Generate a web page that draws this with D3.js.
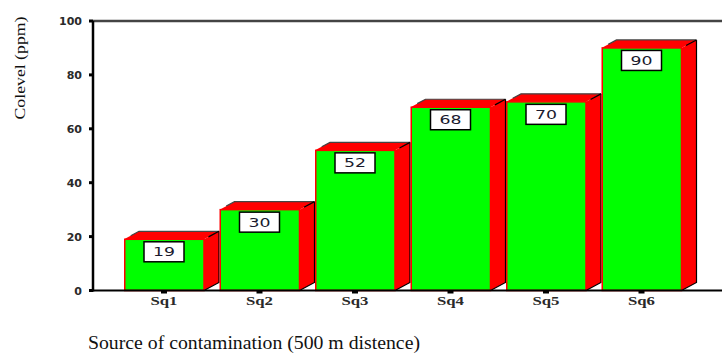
<!DOCTYPE html>
<html><head><meta charset="utf-8">
<script src="https://cdn.jsdelivr.net/npm/d3@7"></script>
<style>html,body{margin:0;padding:0;background:#fff;}svg{display:block;}</style>
</head><body>
<svg id="c" width="722" height="354"></svg>
<script>
const categories = ["Sq1","Sq2","Sq3","Sq4","Sq5","Sq6"];
const values = [19, 30, 52, 68, 70, 90];
const yTicks = [0, 20, 40, 60, 80, 100];
const yTitle = "Colevel (ppm)";
const xTitle = "Source of contamination (500 m distence)";

(function(){
const svg = d3.select("#c");
const pLeft = 93, pRight = 722, pTop = 21, pBottom = 290.5;
const y = d3.scaleLinear().domain([0, 100]).range([pBottom, pTop]);
const x = d3.scalePoint().domain(categories).range([164, 641.5]);
const bw = 80, dx = 15, dy = 8;

const g = svg.append("g");
categories.forEach((c, i) => {
  const cx = x(c), v = values[i];
  const x0 = cx - bw/2, x1 = cx + bw/2, yt = y(v), yb = y(0);
  g.append("path").attr("d", `M${x1},${yb}L${x1+dx},${yb-dy}L${x1+dx},${yt-dy}L${x1},${yt}Z`)
    .attr("fill", "#ff0000");
  g.append("path").attr("d", `M${x1},${yb}L${x1+dx},${yb-dy}L${x1+dx},${yt-dy}`)
    .attr("fill", "none").attr("stroke", "#000").attr("stroke-width", 1.2);
  g.append("path").attr("d", `M${x0},${yt}L${x0+dx},${yt-dy}L${x1+dx},${yt-dy}L${x1},${yt}Z`)
    .attr("fill", "#ff0000");
  g.append("path").attr("d", `M${x0+dx*0.45},${yt-dy*0.45}L${x0+dx},${yt-dy}L${x1+dx},${yt-dy}`)
    .attr("fill", "none").attr("stroke", "#444").attr("stroke-width", 1.2);
  g.append("path").attr("d", `M${x1+dx*0.3},${yt-dy*0.3}L${x1+dx},${yt-dy}`)
    .attr("fill", "none").attr("stroke", "#000").attr("stroke-width", 1.3);
  g.append("rect").attr("x", x0+0.75).attr("y", yt).attr("width", bw-0.75).attr("height", yb-yt)
    .attr("fill", "#00ff00").attr("stroke", "#ff0000").attr("stroke-width", 1.5);
  g.append("rect").attr("x", cx-20).attr("y", yt+2.5).attr("width", 40).attr("height", 20)
    .attr("fill", "#fff").attr("stroke", "#000").attr("stroke-width", 1.5);
  g.append("text").attr("x", cx).attr("y", yt+17).attr("text-anchor", "middle")
    .attr("font-family", "DejaVu Sans, Verdana, sans-serif").attr("font-size", 12.5)
    .attr("textLength", 22).attr("lengthAdjust", "spacingAndGlyphs")
    .attr("fill", "#1a1a2e").text(v);
});

svg.append("line").attr("x1", pLeft).attr("x2", pRight).attr("y1", pTop).attr("y2", pTop)
  .attr("stroke", "#444").attr("stroke-width", 2.5);
svg.append("line").attr("x1", pLeft-1).attr("x2", pRight).attr("y1", pBottom).attr("y2", pBottom)
  .attr("stroke", "#000").attr("stroke-width", 2);
svg.append("line").attr("x1", pLeft).attr("x2", pLeft).attr("y1", pTop).attr("y2", pBottom+1)
  .attr("stroke", "#000").attr("stroke-width", 2.5);

const ya = svg.append("g");
yTicks.forEach(t => {
  ya.append("rect").attr("x", pLeft-4).attr("y", y(t)-1.5).attr("width", 4).attr("height", 3).attr("fill", "#000");
  ya.append("text").attr("x", 82).attr("y", y(t)+4).attr("text-anchor", "end")
    .attr("font-family", "DejaVu Sans, Verdana, sans-serif").attr("font-weight", "bold").attr("font-size", 11)
    .attr("fill", "#2a2a2a").text(t);
});

categories.forEach(c => {
  svg.append("rect").attr("x", x(c)-3).attr("y", pBottom).attr("width", 6).attr("height", 3).attr("fill", "#000");
  svg.append("text").attr("x", x(c)).attr("y", 305).attr("text-anchor", "middle")
    .attr("font-family", "Liberation Serif, Times New Roman, serif").attr("font-weight", "bold").attr("font-size", 12)
    .attr("textLength", 27).attr("lengthAdjust", "spacingAndGlyphs")
    .attr("fill", "#2a2a2a").text(c);
});

svg.append("text").attr("transform", "translate(25,68) rotate(-90)").attr("text-anchor", "middle")
  .attr("font-family", "Liberation Serif, Times New Roman, serif").attr("font-size", 15)
  .attr("textLength", 103).attr("lengthAdjust", "spacingAndGlyphs")
  .attr("fill", "#111").text(yTitle);
svg.append("text").attr("x", 88).attr("y", 349)
  .attr("font-family", "Liberation Serif, Times New Roman, serif").attr("font-size", 18)
  .attr("textLength", 332).attr("lengthAdjust", "spacingAndGlyphs")
  .attr("fill", "#111").text(xTitle);
})();
</script>
</body></html>
